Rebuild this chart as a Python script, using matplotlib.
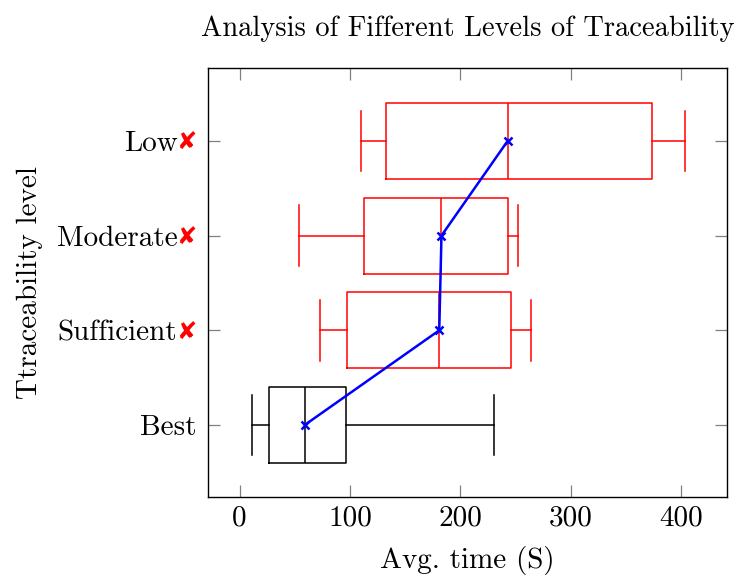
import matplotlib
matplotlib.use("Agg")
import matplotlib.pyplot as plt

plt.rcParams['font.family'] = ['cmr10', 'DejaVu Sans']
plt.rcParams['axes.formatter.use_mathtext'] = True
plt.rcParams['mathtext.fontset'] = 'cm'

categories = ["Best", "Sufficient", "Moderate", "Low"]
whislo = [11, 73, 54, 110]
q1 = [27, 97, 113, 133]
med = [59, 181, 183, 243]
q3 = [96, 246, 243, 374]
whishi = [231, 264, 252, 404]
box_colors = ["black", "red", "red", "red"]
flagged = [False, True, True, True]
xticks = [0, 100, 200, 300, 400]

FS = 21

fig = plt.figure(figsize=(7.38, 5.75), dpi=100)
ax = fig.add_axes([0.2818, 0.1357, 0.985 - 0.2818, 0.8817 - 0.1357])

positions = list(range(1, len(categories) + 1))
for i, p in enumerate(positions):
    stats = [dict(whislo=whislo[i], q1=q1[i], med=med[i], q3=q3[i], whishi=whishi[i], fliers=[])]
    c = box_colors[i]
    ax.bxp(stats, positions=[p], vert=False, widths=0.8, capwidths=0.64,
           showfliers=False, manage_ticks=False,
           boxprops=dict(color=c, linewidth=1.1),
           whiskerprops=dict(color=c, linewidth=1.1),
           capprops=dict(color=c, linewidth=1.1),
           medianprops=dict(color=c, linewidth=1.1))

ax.plot(med, positions, color='blue', marker='x', markersize=6, markeredgewidth=1.8,
        linewidth=1.8, zorder=5)

ax.set_xlim(-28.7, 441.8)
ax.set_ylim(0.24, 4.77)
ax.set_xticks(xticks)
ax.set_xticklabels([str(t) for t in xticks])
ax.set_yticks(positions)
ax.set_yticklabels(categories)

ax.tick_params(axis='both', which='both', direction='in', length=8.5, width=0.9,
               color='#808080', top=True, right=True, labelsize=FS)
ax.tick_params(axis='y', pad=22)
ax.tick_params(axis='x', pad=6)
for s in ax.spines.values():
    s.set_linewidth(1.0)

ticks = ax.yaxis.get_major_ticks()
for i, t in enumerate(ticks[:len(categories)]):
    if not flagged[i]:
        t.set_pad(8.5)

for i, p in enumerate(positions):
    if flagged[i]:
        ax.annotate('\u2718', xy=(0, p), xycoords=('axes fraction', 'data'),
                    xytext=(-8.5, -1), textcoords='offset points',
                    ha='right', va='center', color='red', fontsize=17.5,
                    family=['DejaVu Sans'])

ax.set_xlabel('Avg. time (S)', fontsize=FS, labelpad=10)
ax.set_ylabel('Ttraceability level', fontsize=FS, labelpad=10)
ax.set_title('Analysis of Fifferent Levels of Traceability', fontsize=20.5, pad=23)

fig.savefig('out.png', dpi=100)
